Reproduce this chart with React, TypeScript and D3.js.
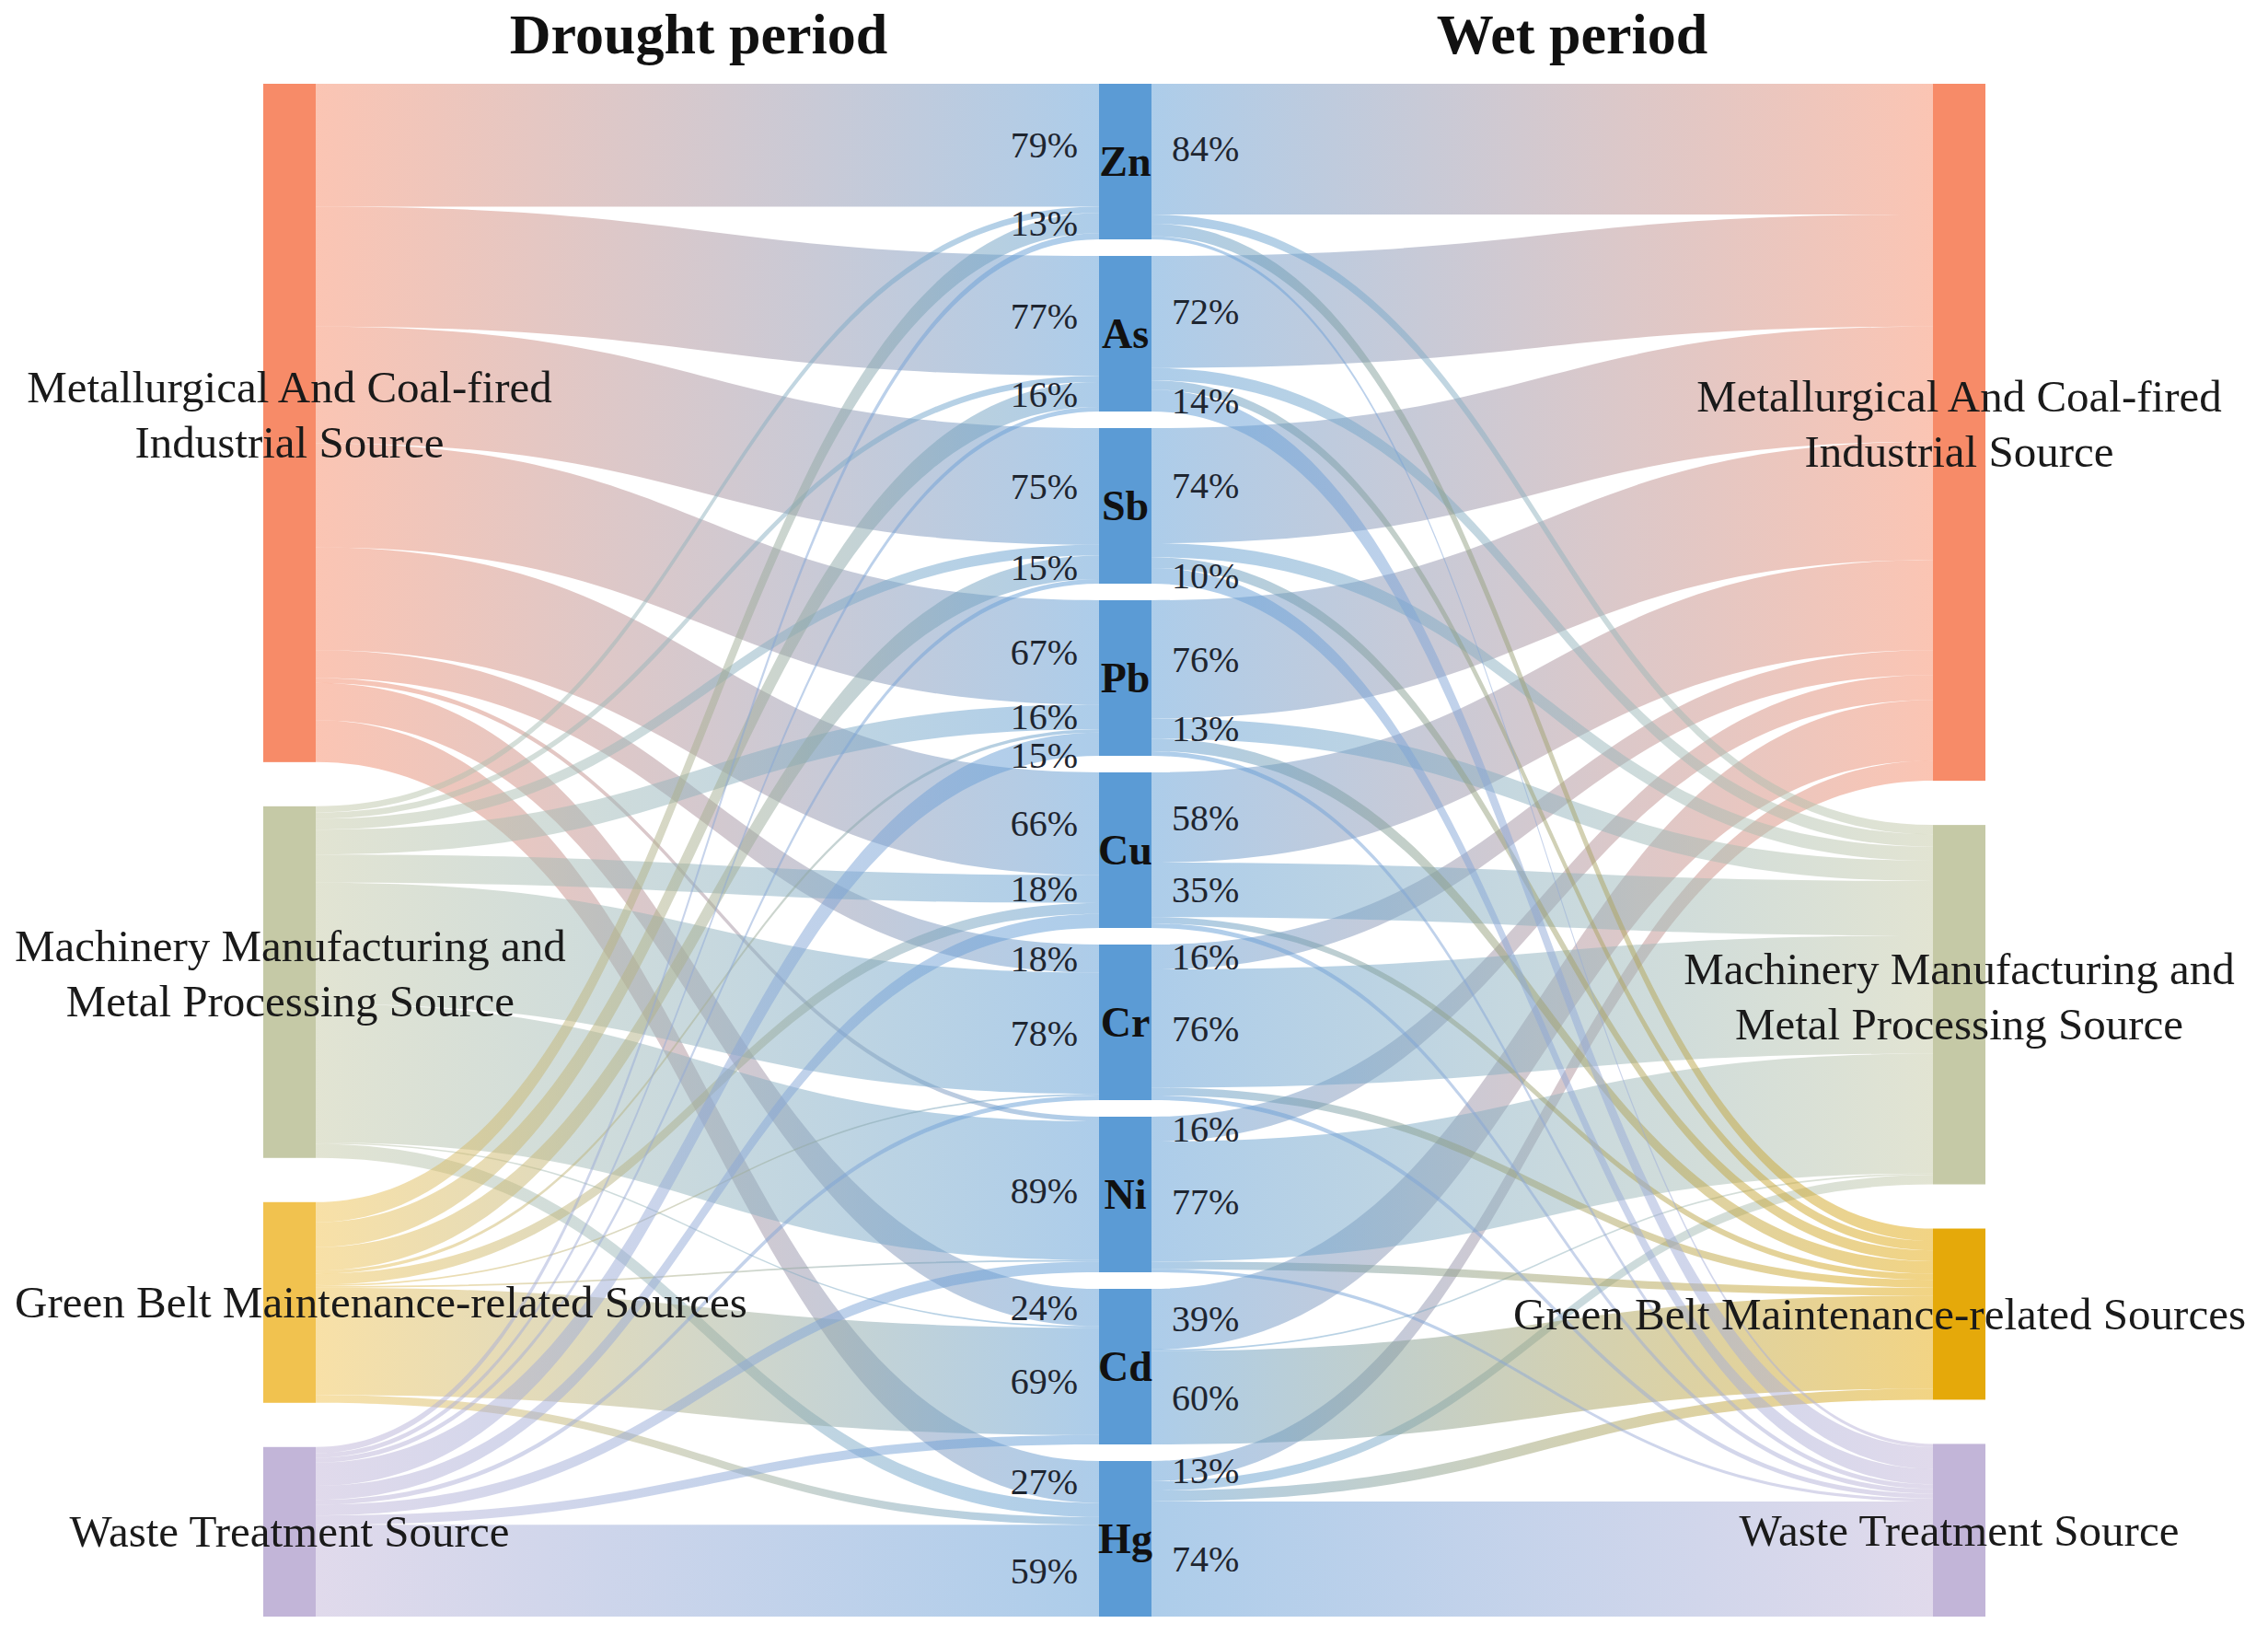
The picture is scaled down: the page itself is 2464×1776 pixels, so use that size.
import React, { useRef, useEffect } from "react";
import * as d3 from "d3";

// metals in the middle column
const metals = ["Zn", "As", "Sb", "Pb", "Cu", "Cr", "Ni", "Cd", "Hg"];

// source names, split in the lines they are printed in
const sourceLines = [
  ["Metallurgical And Coal-fired", "Industrial Source"],
  ["Machinery Manufacturing and", "Metal Processing Source"],
  ["Green Belt Maintenance-related Sources"],
  ["Waste Treatment Source"]
];

// contribution (%) of each source to each metal, drought period
const droughtMetallurgical = [79, 77, 75, 67, 66, 18, 3, 24, 27];
const droughtMachinery = [4, 4, 7, 16, 18, 78, 89, 1, 9];
const droughtGreenBelt = [13, 16, 15, 2, 7, 1, 1, 69, 5];
const droughtWaste = [4, 3, 3, 15, 9, 3, 7, 6, 59];

// wet period
const wetMetallurgical = [84, 72, 74, 76, 58, 16, 16, 39, 13];
const wetMachinery = [6, 8, 9, 13, 35, 76, 77, 1, 6];
const wetGreenBelt = [8, 6, 7, 8, 4, 5, 5, 60, 7];
const wetWaste = [2, 14, 10, 3, 3, 3, 2, 0, 74];

const periodTitles = ["Drought period", "Wet period"];

const droughtColors = ["#f78b68", "#c5c9a6", "#f1c24f", "#c2b5d8"];
const wetColors = ["#f78b68", "#c5c9a6", "#e5a90a", "#c2b5d8"];
const metalColor = "#5b9bd5";

function App() {
  const ref = useRef(null);

  const w = 2464,
    h = 1776,
    top = 91,
    bottom = 1756,
    nodeW = 57,
    leftX = 286,
    midX = 1194,
    rightX = 2100,
    metalGap = 18;

  useEffect(() => {
    const root = d3.select(ref.current);
    root.selectAll("*").remove();

    const svg = root
      .append("svg")
      .attr("width", w)
      .attr("height", h)
      .style("position", "absolute")
      .style("left", 0)
      .style("top", 0)
      .style("background", "#fff");

    const drought = [droughtMetallurgical, droughtMachinery, droughtGreenBelt, droughtWaste];
    const wet = [wetMetallurgical, wetMachinery, wetGreenBelt, wetWaste];
    const total = d3.sum(drought, d => d3.sum(d));

    const span = bottom - top;
    const v = d3
      .scaleLinear()
      .domain([0, total])
      .range([0, span - (metals.length - 1) * metalGap]);

    // stack nodes vertically with equal gaps
    const stackNodes = sizes => {
      const gap = (span - v(d3.sum(sizes))) / (sizes.length - 1);
      let y = top;
      return sizes.map(s => {
        const n = { y0: y, y1: y + v(s) };
        y = n.y1 + gap;
        return n;
      });
    };

    const metalTotals = metals.map((m, i) => d3.sum(drought, d => d[i]));
    const metalNodes = stackNodes(metalTotals);
    const leftNodes = stackNodes(drought.map(d => d3.sum(d)));
    const rightNodes = stackNodes(wet.map(d => d3.sum(d)));

    const defs = svg.append("defs");
    const grad = (id, x1, x2, c1, c2) => {
      const g = defs
        .append("linearGradient")
        .attr("id", id)
        .attr("gradientUnits", "userSpaceOnUse")
        .attr("x1", x1)
        .attr("x2", x2)
        .attr("y1", 0)
        .attr("y2", 0);
      g.append("stop").attr("offset", "0%").attr("stop-color", c1);
      g.append("stop").attr("offset", "100%").attr("stop-color", c2);
    };
    droughtColors.forEach((c, s) => grad("gl" + s, leftX + nodeW, midX, c, metalColor));
    wetColors.forEach((c, s) => grad("gr" + s, midX + nodeW, rightX, metalColor, c));

    const band = (xa, ya0, ya1, xb, yb0, yb1) => {
      const xm = (xa + xb) / 2;
      const p = d3.path();
      p.moveTo(xa, ya0);
      p.bezierCurveTo(xm, ya0, xm, yb0, xb, yb0);
      p.lineTo(xb, yb1);
      p.bezierCurveTo(xm, yb1, xm, ya1, xa, ya1);
      p.closePath();
      return p.toString();
    };

    // build links for one side; returns link list with positions at both ends
    const buildLinks = (matrix, srcNodes) => {
      const links = [];
      const srcOff = srcNodes.map(n => n.y0);
      const metOff = metalNodes.map(n => n.y0);
      // source side ordered by metal, metal side ordered by source
      matrix.forEach((row, s) =>
        row.forEach((val, m) => {
          links.push({ s, m, val });
        })
      );
      links.forEach(l => {
        l.sy0 = srcOff[l.s];
        srcOff[l.s] += v(l.val);
        l.sy1 = srcOff[l.s];
      });
      d3.range(metals.length).forEach(m => {
        links
          .filter(l => l.m === m)
          .sort((a, b) => a.s - b.s)
          .forEach(l => {
            l.my0 = metOff[m];
            metOff[m] += v(l.val);
            l.my1 = metOff[m];
          });
      });
      return links.filter(l => l.val > 0);
    };

    const leftLinks = buildLinks(drought, leftNodes);
    const rightLinks = buildLinks(wet, rightNodes);

    const linkG = svg.append("g").attr("fill-opacity", 0.5);
    linkG
      .selectAll("path.l")
      .data(leftLinks)
      .enter()
      .append("path")
      .attr("class", "l")
      .attr("d", l => band(leftX + nodeW, l.sy0, l.sy1, midX, l.my0, l.my1))
      .attr("fill", l => `url(#gl${l.s})`);
    linkG
      .selectAll("path.r")
      .data(rightLinks)
      .enter()
      .append("path")
      .attr("class", "r")
      .attr("d", l => band(midX + nodeW, l.my0, l.my1, rightX, l.sy0, l.sy1))
      .attr("fill", l => `url(#gr${l.s})`);

    // nodes
    const nodeG = svg.append("g");
    nodeG
      .selectAll("rect.left")
      .data(leftNodes)
      .enter()
      .append("rect")
      .attr("x", leftX)
      .attr("y", d => d.y0)
      .attr("width", nodeW)
      .attr("height", d => d.y1 - d.y0)
      .attr("fill", (d, i) => droughtColors[i]);
    nodeG
      .selectAll("rect.right")
      .data(rightNodes)
      .enter()
      .append("rect")
      .attr("x", rightX)
      .attr("y", d => d.y0)
      .attr("width", nodeW)
      .attr("height", d => d.y1 - d.y0)
      .attr("fill", (d, i) => wetColors[i]);
    nodeG
      .selectAll("rect.mid")
      .data(metalNodes)
      .enter()
      .append("rect")
      .attr("x", midX)
      .attr("y", d => d.y0)
      .attr("width", nodeW)
      .attr("height", d => d.y1 - d.y0)
      .attr("fill", metalColor);

    const font = "'Liberation Serif', 'Times New Roman', serif";

    // metal names
    svg
      .append("g")
      .selectAll("text")
      .data(metalNodes)
      .enter()
      .append("text")
      .attr("x", midX + nodeW / 2)
      .attr("y", d => (d.y0 + d.y1) / 2)
      .attr("text-anchor", "middle")
      .attr("dominant-baseline", "central")
      .style("font-family", font)
      .style("font-size", "46px")
      .style("font-weight", "bold")
      .attr("fill", "#111")
      .text((d, i) => metals[i]);

    // percentage labels, pushed apart where they would collide
    const pctLabels = (links, x, anchor) => {
      const shown = [];
      d3.range(metals.length).forEach(m => {
        let last = -Infinity;
        links
          .filter(l => l.m === m && l.val >= 10)
          .sort((a, b) => a.my0 - b.my0)
          .forEach(l => {
            let y = (l.my0 + l.my1) / 2;
            if (y < last + 42) y = last + 42;
            last = y;
            shown.push({ y, val: l.val });
          });
      });
      svg
        .append("g")
        .selectAll("text")
        .data(shown)
        .enter()
        .append("text")
        .attr("x", x)
        .attr("y", d => d.y)
        .attr("text-anchor", anchor)
        .attr("dominant-baseline", "central")
        .style("font-family", font)
        .style("font-size", "40px")
        .attr("fill", "#1e2530")
        .text(d => d.val + "%");
    };
    pctLabels(leftLinks, midX - 23, "end");
    pctLabels(rightLinks, midX + nodeW + 22, "start");

    // source names, centred on the node and kept inside the page
    const sourceText = (nodes, cx) => {
      nodes.forEach((n, i) => {
        const lines = sourceLines[i];
        const cy = (n.y0 + n.y1) / 2 - (lines.length > 1 ? 9 : 0);
        const t = svg
          .append("text")
          .attr("text-anchor", "middle")
          .style("font-family", font)
          .style("font-size", "49px")
          .attr("fill", "#1a1a1a");
        lines.forEach((line, j) => {
          t.append("tspan")
            .attr("x", cx)
            .attr("y", cy + (j - (lines.length - 1) / 2) * 60)
            .attr("dominant-baseline", "central")
            .text(line);
        });
        const bb = t.node().getBBox();
        let dx = 0;
        if (bb.x < 16) dx = 16 - bb.x;
        if (bb.x + bb.width > w - 24) dx = w - 24 - (bb.x + bb.width);
        t.attr("transform", `translate(${dx},0)`);
      });
    };
    sourceText(leftNodes, leftX + nodeW / 2);
    sourceText(rightNodes, rightX + nodeW / 2);

    // period titles
    svg
      .append("g")
      .selectAll("text")
      .data(periodTitles)
      .enter()
      .append("text")
      .attr("x", (d, i) => (i === 0 ? 759 : 1708))
      .attr("y", 37)
      .attr("text-anchor", "middle")
      .attr("dominant-baseline", "central")
      .style("font-family", font)
      .style("font-size", "62px")
      .style("font-weight", "bold")
      .attr("fill", "#111")
      .text(d => d);
  }, []);

  return <div className="App" ref={ref}></div>;
}

export default App;
